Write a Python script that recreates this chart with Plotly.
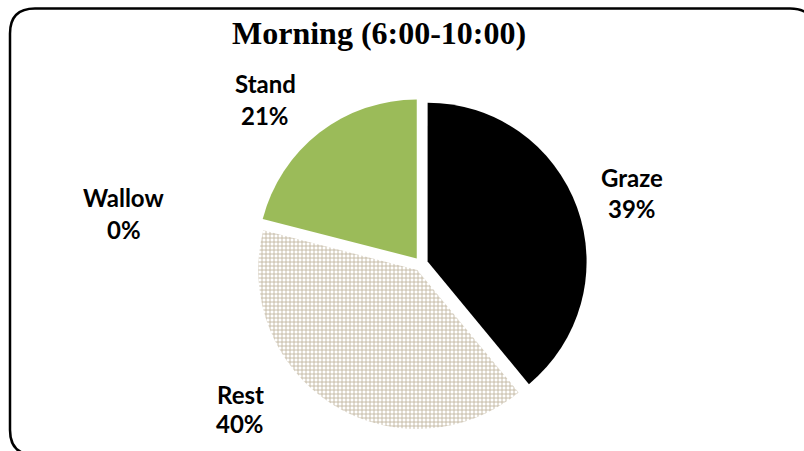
import plotly.graph_objects as go

# Morning activity budget (6:00-10:00)
activities = ["Graze", "Rest", "Wallow", "Stand"]
shares = [39, 40, 0, 21]
slice_colors = ["#000000", "#e0d9c8", "#ffffff", "#9bbb59"]
slice_patterns = ["", "+", "", ""]

# label placement (paper coordinates) for each activity: name line and value line
label_x = [0.786, 0.299, 0.154, 0.330]
label_name_y = [0.606, 0.126, 0.563, 0.815]
label_value_y = [0.537, 0.060, 0.492, 0.744]

W, H = 804, 451

fig = go.Figure(
    go.Pie(
        labels=activities,
        values=shares,
        sort=False,
        direction="clockwise",
        rotation=0,
        pull=[0.044] * len(activities),
        marker=dict(
            colors=slice_colors,
            line=dict(width=0),
            pattern=dict(
                shape=slice_patterns,
                fgcolor="#c2b7a0",
                size=4,
                solidity=0.4,
            ),
        ),
        textinfo="none",
        hoverinfo="label+percent",
        showlegend=False,
        domain=dict(x=[0.3172, 0.7301], y=[0.0466, 0.7827]),
    )
)

label_font = dict(family="Lato", size=24, color="#000000")
annotations = []
for name, val, x, yn, yv in zip(activities, shares, label_x, label_name_y, label_value_y):
    annotations.append(dict(x=x, y=yn, xref="paper", yref="paper", text=f"<b>{name}</b>",
                            showarrow=False, xanchor="center", yanchor="middle", font=label_font))
    annotations.append(dict(x=x, y=yv, xref="paper", yref="paper", text=f"<b>{val}%</b>",
                            showarrow=False, xanchor="center", yanchor="middle", font=label_font))

annotations.append(dict(x=379 / W, y=1 - 33 / H, xref="paper", yref="paper",
                        text="<b>Morning (6:00-10:00)</b>", showarrow=False,
                        xanchor="center", yanchor="middle",
                        font=dict(family="Liberation Serif", size=32, color="#000000")))

# rounded frame around the chart area
x0, x1 = 10 / W, 815 / W
y0, y1 = 1 - 455 / H, 1 - 8.5 / H
rx, ry = 25 / W, 25 / H
frame = (
    f"M {x0 + rx},{y1} L {x1 - rx},{y1} Q {x1},{y1} {x1},{y1 - ry} "
    f"L {x1},{y0 + ry} Q {x1},{y0} {x1 - rx},{y0} "
    f"L {x0 + rx},{y0} Q {x0},{y0} {x0},{y0 + ry} "
    f"L {x0},{y1 - ry} Q {x0},{y1} {x0 + rx},{y1} Z"
)

fig.update_layout(
    width=W,
    height=H,
    autosize=False,
    margin=dict(l=0, r=0, t=0, b=0),
    paper_bgcolor="#ffffff",
    plot_bgcolor="#ffffff",
    annotations=annotations,
    shapes=[dict(type="path", path=frame, xref="paper", yref="paper",
                 line=dict(color="#000000", width=2.5), layer="above")],
)

fig.write_html("out.html")
